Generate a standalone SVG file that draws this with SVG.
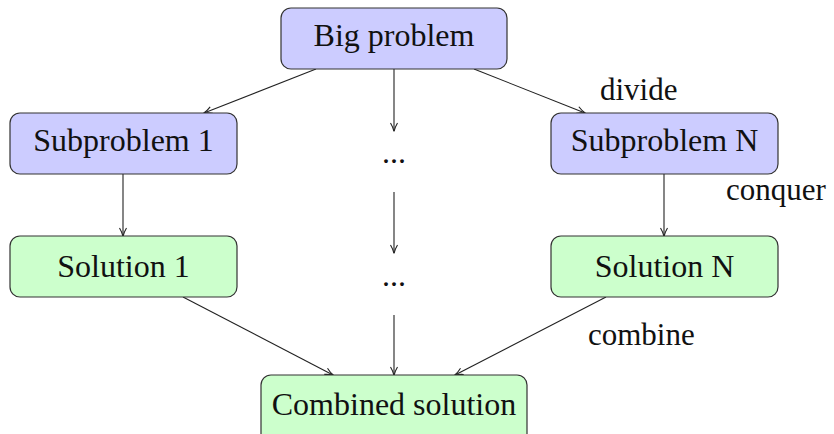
<svg xmlns="http://www.w3.org/2000/svg" width="834" height="434" viewBox="0 0 834 434">
<style>
.box{stroke:#333;stroke-width:1.2}
.blue{fill:#ccccff}
.green{fill:#ccffcc}
text{font-family:"Liberation Serif","DejaVu Serif",serif;font-size:32px;fill:#111}
.c{text-anchor:middle}
.lbl{font-size:31px}
.e{stroke:#222;stroke-width:1.1;fill:none;marker-end:url(#ah)}
</style>
<defs>
<marker id="ah" viewBox="0 0 10 10" refX="9" refY="5" markerWidth="10" markerHeight="10" markerUnits="userSpaceOnUse" orient="auto">
<path d="M1,1.5 Q5,4 9.5,5 Q5,6 1,8.5" fill="none" stroke="#222" stroke-width="1.1"/>
</marker>
</defs>
<rect width="834" height="434" fill="#fff"/>
<g id="connectors">
<line class="e" x1="316" y1="69" x2="204" y2="113"/>
<line class="e" x1="474" y1="69" x2="585" y2="113"/>
<line class="e" x1="394" y1="69" x2="394" y2="131"/>
<line class="e" x1="394" y1="192" x2="394" y2="253"/>
<line class="e" x1="394" y1="315" x2="394" y2="375"/>
<line class="e" x1="123" y1="174" x2="123" y2="236"/>
<line class="e" x1="664" y1="174" x2="664" y2="236"/>
<line class="e" x1="183" y1="297" x2="333" y2="375"/>
<line class="e" x1="606" y1="297" x2="455" y2="375"/>
</g>
<g id="big">
<rect class="box blue" x="281" y="8" width="226" height="61" rx="10"/>
<text class="c" x="394" y="46">Big problem</text>
</g>
<g id="sub1">
<rect class="box blue" x="10" y="113" width="227" height="61" rx="10"/>
<text class="c" x="123.5" y="151">Subproblem 1</text>
</g>
<g id="subN">
<rect class="box blue" x="551" y="113" width="227" height="61" rx="10"/>
<text class="c" x="664.5" y="151">Subproblem N</text>
</g>
<g id="dots1"><text class="c" x="394" y="163">...</text></g>
<g id="sol1">
<rect class="box green" x="10" y="236" width="227" height="61" rx="10"/>
<text class="c" x="123.5" y="277">Solution 1</text>
</g>
<g id="solN">
<rect class="box green" x="551" y="236" width="227" height="61" rx="10"/>
<text class="c" x="664.5" y="277">Solution N</text>
</g>
<g id="dots2"><text class="c" x="394" y="286">...</text></g>
<g id="combined">
<rect class="box green" x="261" y="375" width="266" height="70" rx="10"/>
<text class="c" x="394" y="415">Combined solution</text>
</g>
<g id="labels">
<text class="lbl" x="600" y="100">divide</text>
<text class="lbl" x="726" y="200">conquer</text>
<text class="lbl" x="588" y="345">combine</text>
</g>
</svg>
